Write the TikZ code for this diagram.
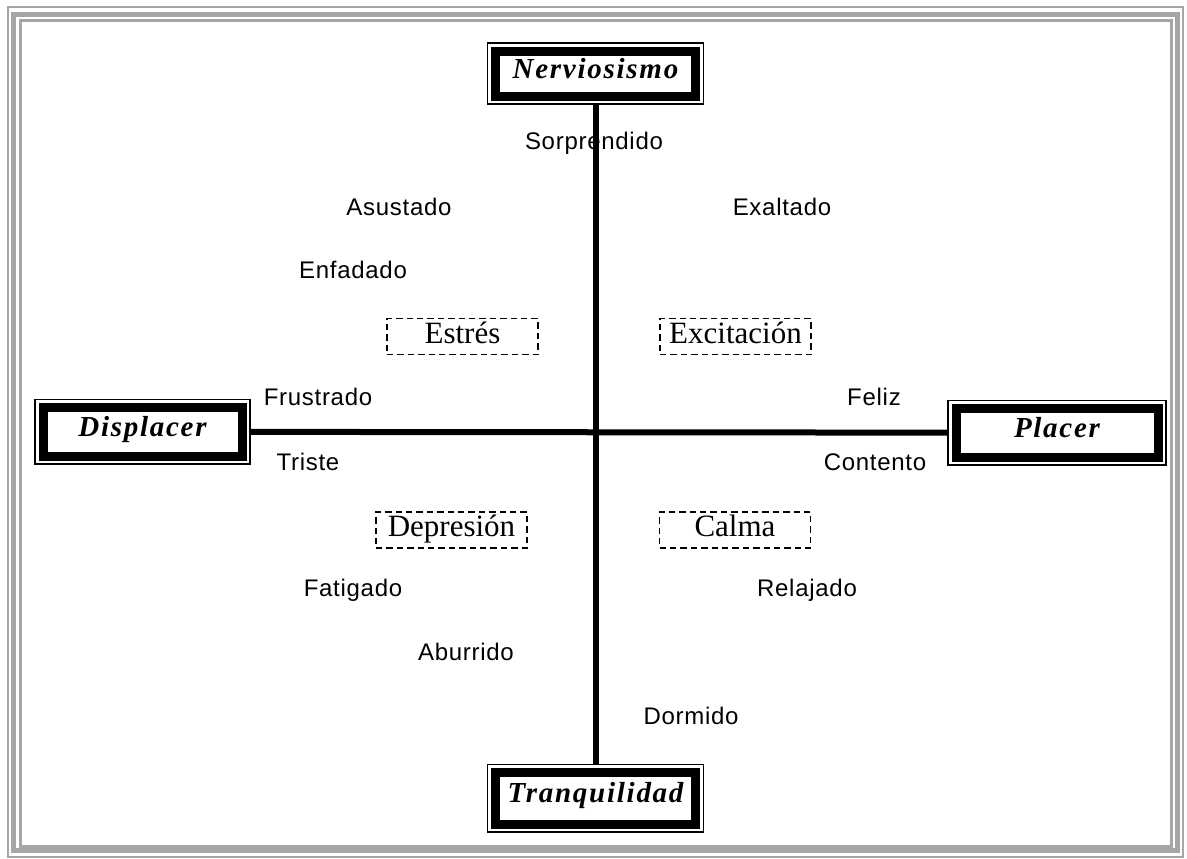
\documentclass[tikz,border=0pt]{standalone}
\usepackage{fontspec}
\setmainfont{Liberation Serif}
\newfontfamily\wordfont{Liberation Sans}[LetterSpace=3]
\newfontfamily\polefont{Liberation Serif}[LetterSpace=6]
\definecolor{edgegray}{HTML}{A6A6A6}
\pgfdeclarelayer{bg}
\pgfdeclarelayer{frame}
\pgfsetlayers{bg,frame,main}
\tikzset{
    every node/.style={inner sep=0pt, outer sep=0pt}
}
\tikzset{
    pole/.style={rectangle, draw, line width=4.5pt, fill=white, minimum width=100pt,
        text height=0.68em, text depth=0.22em,
        font=\polefont\fontsize{14.5}{16}\selectfont\bfseries\itshape},
    mood/.style={rectangle, draw, line width=0.8pt, dash pattern=on 3.2pt off 2pt,
        minimum width=75.5pt, minimum height=18pt, text height=0.66em, text depth=0pt,
        font=\fontsize{15.5}{17}\selectfont},
    word/.style={text height=0.72em, text depth=0pt, font=\wordfont\fontsize{12}{14}\selectfont},
    poleframe/.style={draw, line width=0.75pt, fill=white},
    axis/.style={line width=3pt}
}

\begin{document}
\begin{tikzpicture}[x=0.5pt, y=-0.5pt]
    \useasboundingbox (0,0) rectangle (1187,858);

    % grey page frame
    \draw[edgegray, line width=1pt] (8,7) rectangle (1183,857);
    \draw[edgegray, line width=2.5pt] (13.5,14.5) rectangle (1177.5,850.5);
    \draw[edgegray, line width=1.5pt] (20.5,20.5) rectangle (1171,846.5);

    % poles
    \node[pole, minimum height=22.5pt] (nerv) at (595.5, 73.5) {Nerviosismo};
    \node[pole, minimum height=25.75pt] (tranq) at (595.5, 798.25) {Tranquilidad};
    \node[pole, minimum width=99.5pt, minimum height=24.25pt] (displ) at (142.5, 431.75) {Displacer};
    \node[pole, minimum width=101pt, minimum height=24.25pt] (plac) at (1057, 432.75) {Placer};

    % quadrants
    \node[mood] (estres) at (462.5, 336.5) {Estrés};
    \node[mood] (excit) at (735.5, 336.5) {Excitación};
    \node[mood] (depre) at (451.5, 530) {Depresión};
    \node[mood] (calma) at (735, 530) {Calma};

    % emotions
    \node[word] (asust) at (399, 208) {Asustado};
    \node[word] (exalt) at (782, 208) {Exaltado};
    \node[word] (enfad) at (353, 271) {Enfadado};
    \node[word] (frust) at (318, 398) {Frustrado};
    \node[word] (feliz) at (874, 398) {Feliz};
    \node[word] (trist) at (308, 463) {Triste};
    \node[word] (conte) at (875, 463) {Contento};
    \node[word] (fatig) at (353, 589) {Fatigado};
    \node[word] (relaj) at (807, 589) {Relajado};
    \node[word] (aburr) at (466, 653) {Aburrido};
    \node[word] (dormi) at (691, 717) {Dormido};

    \begin{pgfonlayer}{frame}
        \foreach \n in {nerv, tranq, displ, plac}
            \draw[poleframe] ([shift={(-4pt,4pt)}]\n.north west) rectangle ([shift={(4pt,-4pt)}]\n.south east);
    \end{pgfonlayer}

    \begin{pgfonlayer}{bg}
        \node[word] (sorpr) at (594, 142) {Sorprendido};
        \draw[axis] (nerv) -- (tranq);
        \draw[axis] (displ) -- (plac);
    \end{pgfonlayer}
\end{tikzpicture}
\end{document}
